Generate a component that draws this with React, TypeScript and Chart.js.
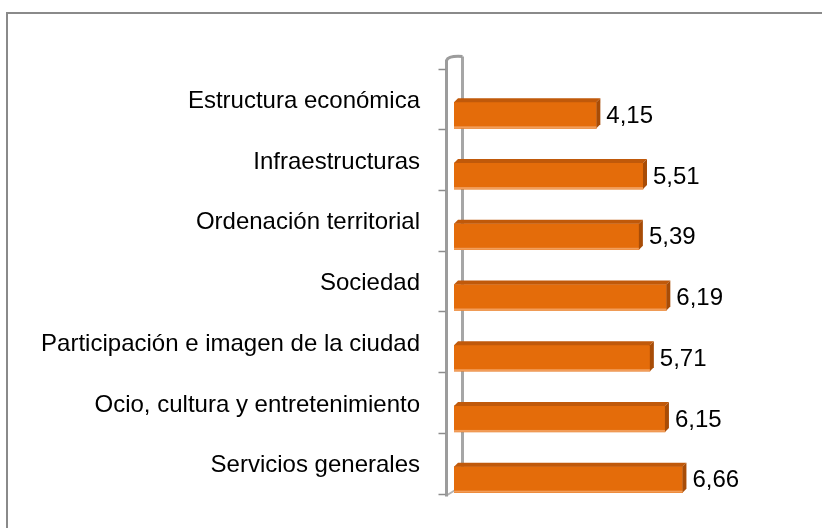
import React, { useEffect, useRef } from "react";
import { Chart, registerables } from "chart.js";

Chart.register(...registerables);

const categories = [
  "Estructura económica",
  "Infraestructuras",
  "Ordenación territorial",
  "Sociedad",
  "Participación e imagen de la ciudad",
  "Ocio, cultura y entretenimiento",
  "Servicios generales",
];
const values = [4.15, 5.51, 5.39, 6.19, 5.71, 6.15, 6.66];
const xMin = 0;
const xMax = 10;

const FONT = "'Liberation Sans', Arial, Helvetica, sans-serif";
const BAR_FRONT = "#E46C0A";
const BAR_TOP = "#C0590A";
const BAR_SIDE = "#A84C06";
const WALL = "#9c9c9c";

const fmt = (v: number) => v.toFixed(2).replace(".", ",");

const threeD = {
  id: "threeD",
  beforeDraw(chart: any) {
    const ctx = chart.ctx;
    ctx.save();
    ctx.fillStyle = "#ffffff";
    ctx.fillRect(0, 0, chart.width, chart.height);
    ctx.strokeStyle = "#8a8a8a";
    ctx.lineWidth = 2;
    ctx.strokeRect(7, 13, chart.width + 50, chart.height + 50);
    ctx.restore();
  },
  beforeDatasetsDraw(chart: any) {
    const ctx = chart.ctx;
    const ys = chart.scales.y;
    const xs = chart.scales.x;
    const n = categories.length;
    const zero = xs.getPixelForValue(0);
    const frontX = zero - 7.5;
    const backX = zero + 8.5;
    const shift = -16.5;
    const top = ys.getPixelForValue(-0.5) + shift;
    const bottom = ys.getPixelForValue(n - 0.5) + shift;
    ctx.save();
    ctx.strokeStyle = "#a6a6a6";
    ctx.lineWidth = 3;
    ctx.beginPath();
    ctx.moveTo(backX, top - 12);
    ctx.lineTo(backX, bottom - 10);
    ctx.stroke();
    ctx.strokeStyle = "#b4b4b4";
    ctx.lineWidth = 2;
    ctx.beginPath();
    ctx.moveTo(frontX, bottom + 2);
    ctx.lineTo(backX, bottom - 8);
    ctx.stroke();
    ctx.strokeStyle = WALL;
    ctx.lineWidth = 3;
    ctx.beginPath();
    ctx.moveTo(frontX, bottom + 3);
    ctx.lineTo(frontX, top - 8);
    ctx.quadraticCurveTo(frontX + 2, top - 13, backX, top - 12);
    ctx.stroke();
    ctx.strokeStyle = "#8c8c8c";
    ctx.lineWidth = 1.5;
    for (let i = 0; i <= n; i++) {
      const y = Math.round(ys.getPixelForValue(i - 0.5) + shift) + 0.5;
      ctx.beginPath();
      ctx.moveTo(frontX - 8, y);
      ctx.lineTo(frontX - 1, y);
      ctx.stroke();
    }
    ctx.restore();
  },
  afterDatasetsDraw(chart: any) {
    const ctx = chart.ctx;
    const meta = chart.getDatasetMeta(0);
    const d = 4;
    ctx.save();
    meta.data.forEach((bar: any, i: number) => {
      const p = bar.getProps(["x", "y", "base", "height"], true);
      const x0 = Math.min(p.base, p.x);
      const x1 = Math.max(p.base, p.x);
      const yt = p.y - p.height / 2;
      const yb = p.y + p.height / 2;
      ctx.fillStyle = BAR_TOP;
      ctx.beginPath();
      ctx.moveTo(x0, yt);
      ctx.lineTo(x1, yt);
      ctx.lineTo(x1 + d, yt - d);
      ctx.lineTo(x0 + d, yt - d);
      ctx.closePath();
      ctx.fill();
      ctx.fillStyle = BAR_SIDE;
      ctx.beginPath();
      ctx.moveTo(x1, yt);
      ctx.lineTo(x1 + d, yt - d);
      ctx.lineTo(x1 + d, yb - d);
      ctx.lineTo(x1, yb);
      ctx.closePath();
      ctx.fill();
      ctx.fillStyle = "rgba(245,170,110,0.8)";
      ctx.fillRect(x0, yb - 2, x1 - x0, 2);
      ctx.fillStyle = "#000000";
      ctx.font = `24px ${FONT}`;
      ctx.textAlign = "left";
      ctx.textBaseline = "middle";
      ctx.fillText(fmt(values[i]), x1 + d + 6, p.y + 1);
    });
    ctx.restore();
  },
};

export default function App() {
  const ref = useRef<HTMLCanvasElement>(null);
  useEffect(() => {
    document.body.style.margin = "0";
    const canvas = ref.current!;
    const chart = new Chart(canvas, {
      type: "bar",
      data: {
        labels: categories,
        datasets: [
          {
            data: values,
            backgroundColor: BAR_FRONT,
            borderWidth: 0,
            barThickness: 26,
          },
        ],
      },
      options: {
        indexAxis: "y",
        responsive: false,
        animation: false,
        devicePixelRatio: 1,
        layout: { padding: { left: 0, right: 25, top: 85, bottom: 18 } },
        plugins: {
          legend: { display: false },
          tooltip: { enabled: false },
          title: { display: false },
        },
        scales: {
          x: {
            display: false,
            min: xMin,
            max: xMax,
          },
          y: {
            grid: { display: false, drawTicks: false },
            border: { display: false },
            ticks: {
              autoSkip: false,
              color: "#000000",
              padding: 34,
              labelOffset: -14,
              font: { family: FONT, size: 24 },
            },
            afterFit(scale: any) {
              scale.width = 454;
              scale.paddingTop = 0;
              scale.paddingBottom = 0;
            },
          },
        },
      },
      plugins: [threeD],
    });
    return () => chart.destroy();
  }, []);
  return (
    <div style={{ position: "fixed", left: 0, top: 0, width: 822, height: 528 }}>
      <canvas ref={ref} width={822} height={528} style={{ display: "block" }} />
    </div>
  );
}
